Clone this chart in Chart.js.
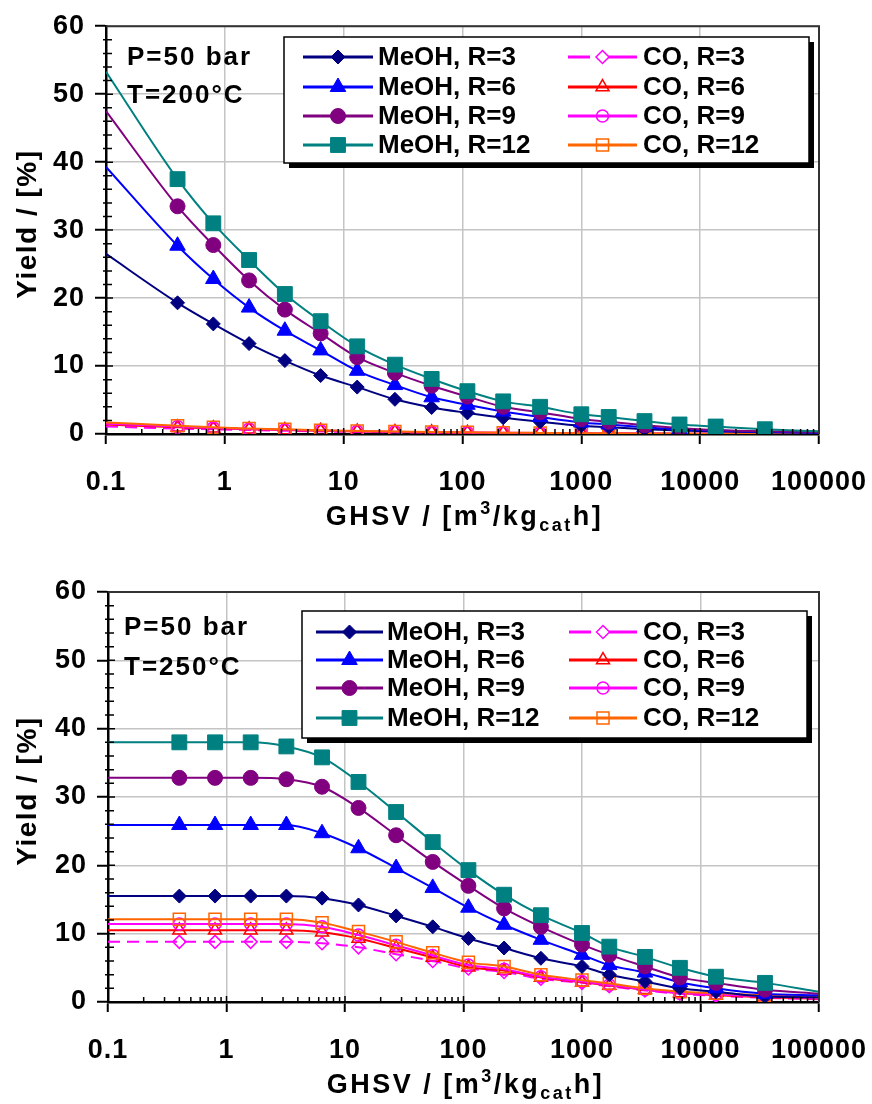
<!DOCTYPE html>
<html lang="en">
<head>
    <meta charset="utf-8">
    <title>MeOH / CO yield vs GHSV</title>
    <script src="https://cdn.jsdelivr.net/npm/chart.js"></script>
    <style>
        body {
            margin: 0;
            background: #fff;
        }
        canvas {
            display: block;
        }
    </style>
</head>
<body>
    <canvas id="chartTop" width="872" height="550"></canvas>
    <canvas id="chartBottom" width="872" height="554"></canvas>

    <script>
        // GHSV / [m3/kg_cat h] - first and last entries are the line ends (no marker)
        const ghsv = [0.1, 0.4, 0.8, 1.6, 3.2, 6.4, 13, 27, 55, 110, 220, 450, 1000, 1700, 3400, 6700, 13500, 35000, 100000];
        const xTicks = [0.1, 1, 10, 100, 1000, 10000, 100000];
        const yTicks = [0, 10, 20, 30, 40, 50, 60];
        const seriesLabels = ['MeOH, R=3', 'MeOH, R=6', 'MeOH, R=9', 'MeOH, R=12', 'CO, R=3', 'CO, R=6', 'CO, R=9', 'CO, R=12'];

        // T = 200 °C
        const meoh3_200 = [26.5, 19.3, 16.2, 13.3, 10.8, 8.6, 6.9, 5.1, 3.9, 3.1, 2.4, 1.8, 1.2, 1.0, 0.7, 0.5, 0.35, 0.25, 0.2];
        const meoh6_200 = [39.3, 27.7, 22.8, 18.6, 15.2, 12.3, 9.3, 7.2, 5.4, 4.3, 3.3, 2.5, 1.7, 1.4, 1.0, 0.7, 0.5, 0.3, 0.2];
        const meoh9_200 = [47.5, 33.5, 27.8, 22.6, 18.3, 14.8, 11.3, 9.0, 7.1, 5.5, 4.0, 3.2, 2.2, 1.8, 1.3, 0.9, 0.6, 0.4, 0.3];
        const meoh12_200 = [53.3, 37.5, 31.0, 25.6, 20.6, 16.6, 12.9, 10.2, 8.1, 6.3, 4.8, 4.0, 2.9, 2.5, 1.9, 1.4, 1.1, 0.7, 0.4];
        const co3_200 = [1.1, 0.8, 0.7, 0.58, 0.48, 0.38, 0.3, 0.25, 0.2, 0.16, 0.13, 0.1, 0.08, 0.06, 0.05, 0.04, 0.03, 0.02, 0.02];
        const co6_200 = [1.4, 1.0, 0.85, 0.7, 0.58, 0.46, 0.37, 0.3, 0.25, 0.2, 0.16, 0.12, 0.09, 0.08, 0.06, 0.05, 0.04, 0.03, 0.02];
        const co9_200 = [1.5, 1.1, 0.9, 0.75, 0.62, 0.5, 0.4, 0.33, 0.27, 0.22, 0.18, 0.14, 0.1, 0.09, 0.07, 0.05, 0.04, 0.03, 0.02];
        const co12_200 = [1.7, 1.2, 1.0, 0.8, 0.7, 0.55, 0.45, 0.38, 0.3, 0.25, 0.2, 0.16, 0.12, 0.1, 0.08, 0.06, 0.05, 0.04, 0.03];

        // T = 250 °C
        const meoh3_250 = [15.5, 15.5, 15.5, 15.5, 15.5, 15.2, 14.2, 12.6, 11.0, 9.3, 7.9, 6.4, 5.2, 4.0, 3.0, 2.0, 1.5, 0.8, 0.7];
        const meoh6_250 = [25.9, 25.9, 25.9, 25.9, 25.9, 24.7, 22.5, 19.6, 16.7, 13.8, 11.3, 9.1, 6.9, 5.4, 4.3, 2.9, 2.0, 1.2, 1.0];
        const meoh9_250 = [32.8, 32.8, 32.8, 32.8, 32.6, 31.5, 28.4, 24.4, 20.5, 17.0, 13.7, 11.0, 8.4, 6.9, 5.2, 3.6, 2.8, 1.8, 1.2];
        const meoh12_250 = [38.0, 38.0, 38.0, 38.0, 37.4, 35.8, 32.2, 27.8, 23.4, 19.3, 15.7, 12.7, 10.1, 8.1, 6.6, 5.0, 3.7, 2.8, 1.5];
        const co3_250 = [8.8, 8.8, 8.8, 8.8, 8.8, 8.6, 8.0, 7.0, 6.0, 4.9, 4.4, 3.4, 2.8, 2.3, 1.7, 1.2, 0.9, 0.6, 0.4];
        const co6_250 = [10.5, 10.5, 10.5, 10.5, 10.5, 10.2, 9.3, 7.9, 6.5, 5.1, 4.6, 3.6, 2.9, 2.4, 1.8, 1.3, 1.0, 0.7, 0.5];
        const co9_250 = [11.4, 11.4, 11.4, 11.4, 11.4, 11.0, 9.8, 8.3, 6.8, 5.4, 4.8, 3.7, 3.0, 2.5, 1.8, 1.3, 1.1, 0.8, 0.6];
        const co12_250 = [12.1, 12.1, 12.1, 12.1, 12.1, 11.6, 10.3, 8.8, 7.2, 5.8, 5.2, 4.0, 3.2, 2.7, 2.0, 1.5, 1.3, 1.0, 0.7];

        // styles, same order as seriesLabels
        const styles = [
            { color: '#000080', point: 'rectRot', r: 7, filled: true },
            { color: '#0000ff', point: 'triangle', r: 9, filled: true },
            { color: '#800080', point: 'circle', r: 7.5, filled: true },
            { color: '#008080', point: 'rect', r: 10.5, filled: true },
            { color: '#ff00ff', point: 'rectRot', r: 6.5, filled: false, dash: [12, 7] },
            { color: '#ff0000', point: 'triangle', r: 7.5, filled: false },
            { color: '#ff00ff', point: 'circle', r: 6, filled: false },
            { color: '#ff6600', point: 'rect', r: 8.5, filled: false }
        ];

        const FONT = '"Liberation Sans", Arial, Helvetica, sans-serif';

        function makeDatasets(seriesList) {
            const ds = seriesList.map((vals, i) => {
                const st = styles[i];
                return {
                    label: seriesLabels[i],
                    data: ghsv.map((x, k) => ({ x: x, y: vals[k] })),
                    borderColor: st.color,
                    borderWidth: 2,
                    borderDash: st.dash || [],
                    backgroundColor: st.filled ? st.color : 'rgba(0,0,0,0)',
                    pointStyle: st.point,
                    pointRadius: ghsv.map((x, k) => (k === 0 || k === ghsv.length - 1) ? 0 : st.r),
                    pointBorderWidth: st.filled ? 1 : 1.5,
                    pointBackgroundColor: st.filled ? st.color : 'rgba(0,0,0,0)',
                    pointBorderColor: st.color,
                    cubicInterpolationMode: 'monotone',
                    fill: false
                };
            });
            // MeOH drawn above CO
            return ds.slice(0, 4).reverse().concat(ds.slice(4).reverse());
        }

        // frame, minor ticks, inner legend, texts
        const decorPlugin = {
            id: 'decor',
            beforeLayout(chart) {
                chart.ctx.letterSpacing = '1px';
            },
            afterDraw(chart) {
                const c = chart.options.plugins.decor;
                const ctx = chart.ctx;
                const a = chart.chartArea;
                const xs = chart.scales.x, ys = chart.scales.y;
                ctx.save();
                ctx.letterSpacing = '0px';

                // top and right frame
                ctx.strokeStyle = '#333';
                ctx.lineWidth = 2;
                ctx.beginPath();
                ctx.moveTo(a.left, a.top);
                ctx.lineTo(a.right, a.top);
                ctx.lineTo(a.right, a.bottom);
                ctx.stroke();

                // minor ticks
                ctx.strokeStyle = '#000';
                ctx.lineWidth = 1.5;
                ctx.beginPath();
                for (let v = 2; v < 60; v += 2) {
                    const y = ys.getPixelForValue(v);
                    const len = v % 10 === 0 ? 7 : 6;
                    ctx.moveTo(a.left - (v % 10 === 0 ? 0 : 3), y);
                    ctx.lineTo(a.left + len, y);
                }
                for (let d = 0.1; d < 100000; d *= 10) {
                    for (let k = 2; k <= 9; k++) {
                        const x = xs.getPixelForValue(d * k);
                        ctx.moveTo(x, a.bottom);
                        ctx.lineTo(x, a.bottom - 5);
                    }
                    const x0 = xs.getPixelForValue(d);
                    ctx.moveTo(x0, a.bottom);
                    ctx.lineTo(x0, a.bottom - 6);
                }
                ctx.stroke();

                // condition text
                ctx.fillStyle = '#000';
                ctx.font = 'bold 26px ' + FONT;
                ctx.letterSpacing = '2px';
                ctx.textAlign = 'left';
                ctx.textBaseline = 'middle';
                ctx.fillText(c.lines[0], c.textX, c.textY[0]);
                ctx.fillText(c.lines[1], c.textX, c.textY[1]);
                ctx.letterSpacing = '0px';

                // legend box with drop shadow
                const L = c.legend;
                ctx.fillStyle = '#000';
                ctx.fillRect(L.x + 5, L.y + 5, L.w, L.h);
                ctx.fillStyle = '#fff';
                ctx.fillRect(L.x, L.y, L.w, L.h);
                ctx.strokeStyle = '#000';
                ctx.lineWidth = 1.5;
                ctx.strokeRect(L.x, L.y, L.w, L.h);

                ctx.font = 'bold 26px ' + FONT;
                seriesLabels.forEach((label, i) => {
                    const st = styles[i];
                    const col = i < 4 ? L.col1 : L.col2;
                    const y = L.rows[i % 4];
                    ctx.save();
                    ctx.strokeStyle = st.color;
                    ctx.lineWidth = 3;
                    ctx.setLineDash(st.dash ? [22, 18, 14, 0] : []);
                    ctx.beginPath();
                    ctx.moveTo(col[0], y);
                    ctx.lineTo(col[1], y);
                    ctx.stroke();
                    ctx.setLineDash([]);
                    ctx.fillStyle = st.filled ? st.color : 'rgba(0,0,0,0)';
                    ctx.lineWidth = st.filled ? 1 : 1.5;
                    Chart.helpers.drawPoint(ctx, {
                        pointStyle: st.point, radius: st.r, rotation: 0, borderWidth: ctx.lineWidth
                    }, (col[0] + col[1]) / 2, y);
                    ctx.restore();
                    ctx.fillStyle = '#000';
                    ctx.textAlign = 'left';
                    ctx.textBaseline = 'middle';
                    ctx.fillText(label, col[2], y + 1);
                });

                // y title
                ctx.save();
                ctx.translate(28, (a.top + a.bottom) / 2 - 6);
                ctx.rotate(-Math.PI / 2);
                ctx.font = 'bold 28px ' + FONT;
                ctx.letterSpacing = '1.5px';
                ctx.textAlign = 'center';
                ctx.textBaseline = 'middle';
                ctx.fillStyle = '#000';
                ctx.fillText('Yield / [%]', 0, 0);
                ctx.restore();

                // x title with superscript / subscript
                const big = 'bold 27px ' + FONT, small = 'bold 18px ' + FONT;
                const parts = [['GHSV / [m', big, 0], ['3', small, -11], ['/kg', big, 0], ['cat', small, 6], ['h]', big, 0]];
                ctx.letterSpacing = '2.5px';
                let total = 0;
                parts.forEach(p => { ctx.font = p[1]; total += ctx.measureText(p[0]).width; });
                let x = (a.left + a.right) / 2 - total / 2 + 2;
                ctx.textAlign = 'left';
                ctx.textBaseline = 'alphabetic';
                ctx.fillStyle = '#000';
                parts.forEach(p => {
                    ctx.font = p[1];
                    ctx.fillText(p[0], x, c.xTitleBase + p[2]);
                    x += ctx.measureText(p[0]).width;
                });
                ctx.restore();
            }
        };

        function makeChart(canvasId, seriesList, cfg) {
            const tickFont = { family: FONT, size: 27, weight: 'bold' };
            return new Chart(document.getElementById(canvasId), {
                type: 'line',
                data: { datasets: makeDatasets(seriesList) },
                plugins: [decorPlugin],
                options: {
                    responsive: false,
                    animation: false,
                    events: [],
                    layout: { padding: { left: 0, top: cfg.top, right: cfg.rightPad, bottom: 0 } },
                    plugins: {
                        legend: { display: false },
                        tooltip: { enabled: false },
                        decor: cfg
                    },
                    scales: {
                        x: {
                            type: 'logarithmic',
                            min: 0.1,
                            max: 100000,
                            afterBuildTicks: s => { s.ticks = xTicks.map(v => ({ value: v })); },
                            afterFit: s => { s.height = cfg.xAxisH; s.paddingRight = 0; s.paddingLeft = 0; },
                            ticks: {
                                callback: v => String(v),
                                font: tickFont,
                                color: '#000',
                                padding: 22,
                                maxRotation: 0,
                                autoSkip: false
                            },
                            grid: { color: '#c4c4c4', lineWidth: 1.5, tickLength: 10, tickColor: '#000', tickWidth: 2 },
                            border: { color: '#000', width: 2.5 }
                        },
                        y: {
                            min: 0,
                            max: 60,
                            afterBuildTicks: s => { s.ticks = yTicks.map(v => ({ value: v })); },
                            afterFit: s => { s.width = cfg.yAxisW; },
                            ticks: { font: tickFont, color: '#000', padding: 10 },
                            grid: { color: '#c4c4c4', lineWidth: 1.5, tickLength: 11, tickColor: '#000', tickWidth: 2 },
                            border: { color: '#000', width: 2.5 }
                        }
                    }
                }
            });
        }

        makeChart('chartTop',
            [meoh3_200, meoh6_200, meoh9_200, meoh12_200, co3_200, co6_200, co9_200, co12_200],
            {
                top: 24, rightPad: 53, xAxisH: 116, yAxisW: 106,
                lines: ['P=50 bar', 'T=200°C'], textX: 127, textY: [58, 96],
                legend: { x: 284, y: 37, w: 525, h: 126, rows: [57, 87, 116, 145], col1: [303, 373, 378], col2: [568, 637, 643] },
                xTitleBase: 525
            });

        makeChart('chartBottom',
            [meoh3_250, meoh6_250, meoh9_250, meoh12_250, co3_250, co6_250, co9_250, co12_250],
            {
                top: 42, rightPad: 53, xAxisH: 102, yAxisW: 108,
                lines: ['P=50 bar', 'T=250°C'], textX: 124, textY: [78, 118],
                legend: { x: 302, y: 61, w: 505, h: 127, rows: [82, 110, 138, 168], col1: [316, 383, 387], col2: [569, 637, 643] },
                xTitleBase: 543
            });
    </script>
</body>
</html>
